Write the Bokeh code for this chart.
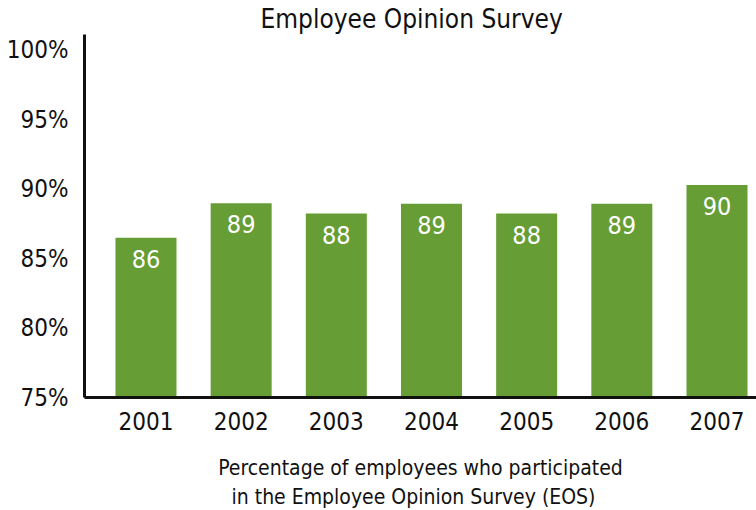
from bokeh.plotting import figure
from bokeh.models import Range1d, FixedTicker, ColumnDataSource, LabelSet, Title
from bokeh.core.properties import value
from bokeh.embed import file_html
from bokeh.resources import INLINE

years = ["2001", "2002", "2003", "2004", "2005", "2006", "2007"]
participation = [86.5, 89.0, 88.25, 88.95, 88.25, 88.95, 90.3]
bar_labels = ["86", "89", "88", "89", "88", "89", "90"]
y_ticks = [75, 80, 85, 90, 95, 100]
y_tick_labels = ["75%", "80%", "85%", "90%", "95%", "100%"]
title_text = "Employee Opinion Survey"
caption_lines = ["Percentage of employees who participated",
                 "in the Employee Opinion Survey (EOS)"]

FONT = "'DejaVu Sans Condensed', 'DejaVu Sans', sans-serif"
GREEN = "#669d34"
INK = "#111111"

xs = list(range(1, len(years) + 1))
src = ColumnDataSource(dict(x=xs, top=participation, lab=bar_labels))

p = figure(width=756, height=510, output_backend="svg", toolbar_location=None,
           x_range=Range1d(0.354, 7.415), y_range=Range1d(75, 101.15),
           min_border_left=84, min_border_right=0, min_border_top=32,
           min_border_bottom=113)
p.outline_line_color = None
p.grid.visible = False
p.background_fill_color = "white"
p.border_fill_color = "white"

p.vbar(x="x", top="top", bottom=75, width=0.641, source=src,
       fill_color=GREEN, line_color=None)

p.add_layout(LabelSet(x="x", y="top", text="lab", source=src,
                      text_align="center", text_baseline="top", y_offset=-12,
                      text_color="white", text_font=value(FONT),
                      text_font_size="25px"))

p.xaxis.ticker = FixedTicker(ticks=xs)
p.xaxis.major_label_overrides = {x: y for x, y in zip(xs, years)}
p.yaxis.ticker = FixedTicker(ticks=y_ticks)
p.yaxis.major_label_overrides = {t: l for t, l in zip(y_ticks, y_tick_labels)}
for ax in (p.xaxis, p.yaxis):
    ax.axis_line_color = INK
    ax.axis_line_width = 3
    ax.major_tick_line_color = None
    ax.minor_tick_line_color = None
    ax.major_label_text_font = FONT
    ax.major_label_text_font_size = "24px"
    ax.major_label_text_color = INK
p.xaxis.major_label_standoff = 8
p.yaxis.major_label_standoff = 10

# first caption line as the x-axis label (centred on the plot frame)
p.xaxis.axis_label = caption_lines[0]
p.xaxis.axis_label_standoff = 23
p.xaxis.axis_label_text_font = FONT
p.xaxis.axis_label_text_font_size = "21px"
p.xaxis.axis_label_text_font_style = "normal"
p.xaxis.axis_label_text_color = INK

p.add_layout(Title(text=title_text, align="left", offset=176, standoff=2,
                   text_font=FONT, text_font_size="26px",
                   text_font_style="normal", text_color=INK), "above")
p.add_layout(Title(text=caption_lines[1], align="left", offset=147, standoff=0,
                   text_font=FONT, text_font_size="21px",
                   text_font_style="normal", text_color=INK), "below")

open("out.html", "w").write(file_html(p, INLINE))
